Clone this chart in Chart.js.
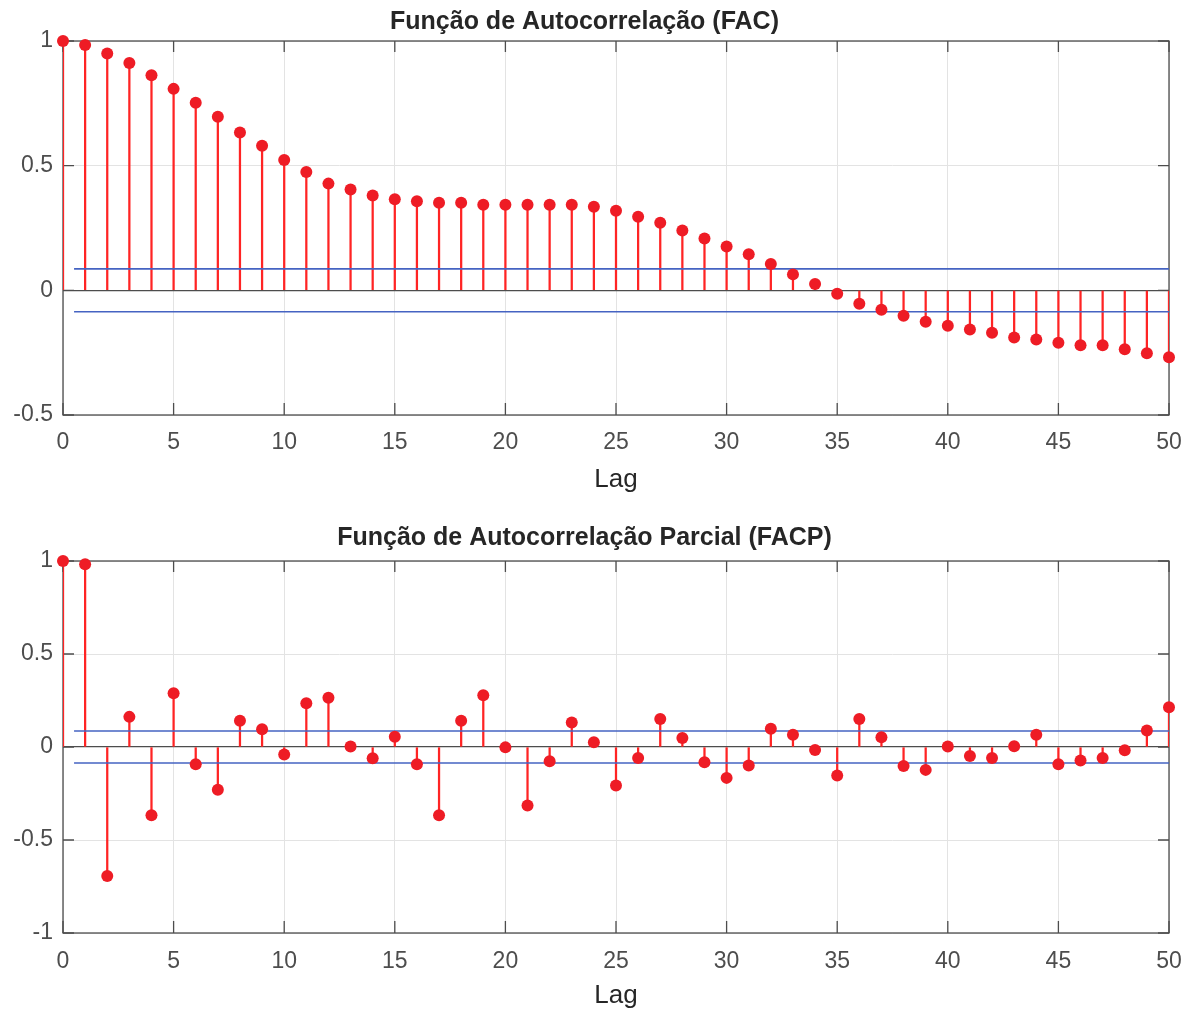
<!DOCTYPE html>
<html>
<head>
<meta charset="utf-8">
<script src="https://cdn.jsdelivr.net/npm/chart.js@4.4.0/dist/chart.umd.min.js"></script>
<style>
  html, body { margin: 0; padding: 0; background: #fff; }
  #facChart { position: absolute; left: 0; top: 0; }
  #facpChart { position: absolute; left: 0; top: 518px; }
</style>
</head>
<body>
<canvas id="facChart" width="1191" height="518"></canvas>
<canvas id="facpChart" width="1191" height="491"></canvas>
<script>
// lags shown on the x axis
var lags = [0, 1, 2, 3, 4, 5, 6, 7, 8, 9, 10, 11, 12, 13, 14, 15, 16, 17, 18, 19, 20,
            21, 22, 23, 24, 25, 26, 27, 28, 29, 30, 31, 32, 33, 34, 35, 36, 37, 38, 39, 40,
            41, 42, 43, 44, 45, 46, 47, 48, 49, 50];

// FAC (autocorrelation)
var facValues = [1.000, 0.984, 0.950, 0.912, 0.863, 0.808, 0.752, 0.696, 0.633, 0.580,
                 0.523, 0.475, 0.428, 0.404, 0.380, 0.365, 0.357, 0.351, 0.351, 0.343,
                 0.343, 0.343, 0.343, 0.343, 0.335, 0.319, 0.295, 0.271, 0.240, 0.208,
                 0.176, 0.145, 0.106, 0.064, 0.025, -0.014, -0.054, -0.078, -0.102, -0.126,
                 -0.142, -0.157, -0.170, -0.189, -0.197, -0.210, -0.220, -0.220, -0.236, -0.252,
                 -0.268];

// FACP (partial autocorrelation)
var facpValues = [1.000, 0.982, -0.694, 0.162, -0.367, 0.289, -0.093, -0.230, 0.141, 0.096,
                  -0.040, 0.235, 0.265, 0.003, -0.061, 0.055, -0.093, -0.367, 0.141, 0.278,
                  -0.002, -0.314, -0.077, 0.132, 0.026, -0.207, -0.059, 0.150, 0.048, -0.082,
                  -0.166, -0.100, 0.098, 0.066, -0.016, -0.153, 0.150, 0.053, -0.102, -0.123,
                  0.003, -0.048, -0.059, 0.004, 0.066, -0.093, -0.072, -0.059, -0.018, 0.089,
                  0.214];

// confidence bounds
var facBound = 0.086;
var facpBound = 0.086;
var boundStart = 0.5;
var boundEnd = 50;

var fontFamily = '"Liberation Sans", Arial, Helvetica, sans-serif';
var tickColor = '#4d4d4d';
var stemColor = '#ff2424';
var dotColor = '#ee1c25';
var boundColor = '#4563c2';

var axesBox = {
  id: 'axesBox',
  beforeDatasetsDraw: function (chart) {
    var ctx = chart.ctx, a = chart.chartArea, x = chart.scales.x, y = chart.scales.y;
    ctx.save();
    ctx.strokeStyle = tickColor;
    ctx.lineWidth = 1.3;
    ctx.beginPath();
    x.ticks.forEach(function (t) {
      var px = x.getPixelForValue(t.value);
      ctx.moveTo(px, a.bottom); ctx.lineTo(px, a.bottom - 12);
      ctx.moveTo(px, a.top); ctx.lineTo(px, a.top + 11);
    });
    y.ticks.forEach(function (t) {
      var py = y.getPixelForValue(t.value);
      ctx.moveTo(a.left, py); ctx.lineTo(a.left + 11, py);
      ctx.moveTo(a.right, py); ctx.lineTo(a.right - 11, py);
    });
    ctx.stroke();
    ctx.strokeRect(a.left, a.top, a.right - a.left, a.bottom - a.top);
    ctx.restore();
  }
};

function makeStemChart(id, titleText, values, bound, yMin, yMax, cfg) {
  var stems = lags.map(function (l, i) { return { x: l, y: [0, values[i]] }; });
  var dots = lags.map(function (l, i) { return { x: l, y: values[i] }; });
  return new Chart(document.getElementById(id), {
    type: 'scatter',
    data: {
      datasets: [
        { type: 'scatter', data: dots, backgroundColor: dotColor, borderWidth: 0,
          pointRadius: 6, pointHoverRadius: 6, clip: false, order: 0 },
        { type: 'line', data: [{ x: boundStart, y: bound }, { x: boundEnd, y: bound }],
          borderColor: boundColor, borderWidth: 1.6, pointRadius: 0, order: 1 },
        { type: 'line', data: [{ x: boundStart, y: -bound }, { x: boundEnd, y: -bound }],
          borderColor: boundColor, borderWidth: 1.6, pointRadius: 0, order: 1 },
        { type: 'bar', data: stems, backgroundColor: stemColor, borderWidth: 0,
          barThickness: 1.6, order: 2 }
      ]
    },
    options: {
      responsive: false,
      animation: false,
      events: [],
      layout: { padding: { left: 0, right: 22, top: 0, bottom: 0 } },
      plugins: {
        legend: { display: false },
        tooltip: { enabled: false },
        title: {
          display: true,
          text: titleText,
          color: '#262626',
          font: { family: fontFamily, size: 25, weight: 'bold', lineHeight: 1.2 },
          padding: { top: cfg.titleTop, bottom: cfg.titleBottom }
        }
      },
      scales: {
        x: {
          type: 'linear',
          min: 0,
          max: 50,
          offset: false,
          ticks: { stepSize: 5, color: tickColor, font: { family: fontFamily, size: 23 },
                   padding: cfg.tickPad, maxRotation: 0, autoSkip: false },
          grid: { color: '#e3e3e3', drawTicks: false, offset: false },
          border: { display: false },
          title: { display: true, text: 'Lag', color: '#262626',
                   font: { family: fontFamily, size: 26, lineHeight: 1 },
                   padding: { top: 0, bottom: cfg.lagPad } },
          afterFit: function (s) {
            s.height = cfg.xAxisHeight;
            s.paddingLeft = 0;
            s.paddingRight = 0;
          }
        },
        y: {
          min: yMin,
          max: yMax,
          ticks: { stepSize: 0.5, color: tickColor, font: { family: fontFamily, size: 23 }, padding: 10,
                   callback: function (v) { return String(v); } },
          grid: {
            drawTicks: false,
            color: function (c) { return c.tick && c.tick.value === 0 ? '#4d4d4d' : '#e3e3e3'; },
            lineWidth: function (c) { return c.tick && c.tick.value === 0 ? 1.3 : 1; }
          },
          border: { display: false },
          afterFit: function (s) { s.width = 63; }
        }
      }
    },
    plugins: [axesBox]
  });
}

makeStemChart('facChart', 'Função de Autocorrelação (FAC)', facValues, facBound, -0.5, 1,
  { titleTop: 7, titleBottom: 4, tickPad: 14, lagPad: 25, xAxisHeight: 103 });

makeStemChart('facpChart', 'Função de Autocorrelação Parcial (FACP)', facpValues, facpBound, -1, 1,
  { titleTop: 5, titleBottom: 8, tickPad: 15, lagPad: 0, xAxisHeight: 76 });
</script>
</body>
</html>
